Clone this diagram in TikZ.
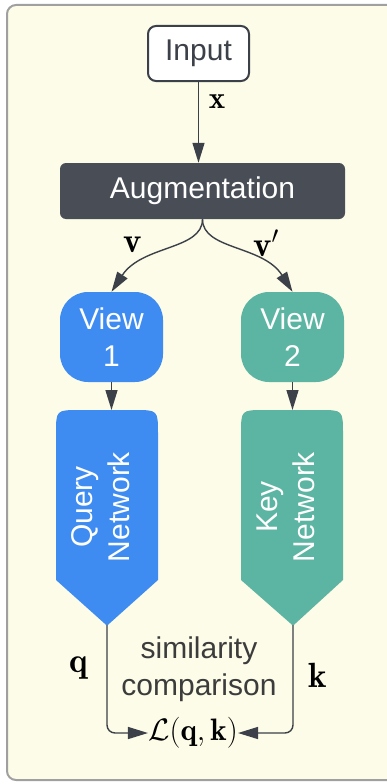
\RequirePackage{fix-cm}
\documentclass[tikz,border=0pt]{standalone}
\usepackage{fontspec}
\newfontfamily\arialf{Liberation Sans}
\usetikzlibrary{arrows.meta}
\definecolor{cream}{RGB}{253,252,232}
\definecolor{framec}{RGB}{160,160,160}
\definecolor{darkc}{RGB}{60,64,72}
\definecolor{augc}{RGB}{72,77,86}
\definecolor{bluec}{RGB}{62,140,242}
\definecolor{tealc}{RGB}{92,181,162}
\definecolor{txtc}{RGB}{60,60,60}
\tikzset{
  sansbig/.style={font=\arialf\fontsize{30}{37}\selectfont},
  inbox/.style={draw=darkc, fill=white, line width=2pt, rounded corners=8pt,
    minimum width=101pt, minimum height=55pt, inner sep=0pt, sansbig, text=darkc},
  augbox/.style={fill=augc, rounded corners=6pt, minimum width=285pt,
    minimum height=56pt, inner sep=0pt, sansbig, text=white},
  viewbox/.style={rounded corners=28pt, minimum width=103pt, minimum height=90pt,
    inner sep=0pt, sansbig, text=white, align=center},
  nettext/.style={sansbig, text=white, align=center, rotate=90, inner sep=0pt},
  conn/.style={draw=darkc, line width=1.4pt,
    -{Triangle[length=20pt,width=12pt]}},
  lab/.style={font=\fontsize{31}{37}\selectfont, inner sep=0pt},
  biglab/.style={font=\fontsize{35}{40}\selectfont, inner sep=0pt},
}
\begin{document}
\begin{tikzpicture}[x=1pt,y=-1pt]
\useasboundingbox (0,0) rectangle (386,784);
\draw[framec, fill=cream, line width=2pt, rounded corners=9pt] (7,5) rectangle (400,780);

% nodes
\node[inbox] (in) at (198.5,53.5) {Input};
\node[augbox] (aug) at (202.5,191) {Augmentation};
\node[viewbox, fill=bluec] (v1) at (111.5,337) {View\\1};
\node[viewbox, fill=tealc] (v2) at (292.5,337) {View\\2};

% query network shape
\fill[bluec] (56,580) -- (56,434) .. controls (56,410) .. (80,410) -- (134,410)
  .. controls (158,410) .. (158,434) -- (158,580) -- (110,623)
  .. controls (107,626) .. (104,623) -- cycle;
\node[nettext] (qn) at (101,507) {Query\\Network};
\coordinate (qtop) at (111.5,410);
\coordinate (qtip) at (107,625);

% key network shape
\fill[tealc] (241,580) -- (241,434) .. controls (241,410) .. (265,410) -- (319,410)
  .. controls (343,410) .. (343,434) -- (343,580) -- (296,623)
  .. controls (293,626) .. (290,623) -- cycle;
\node[nettext] (kn) at (286,507) {Key\\Network};
\coordinate (ktop) at (292.5,410);
\coordinate (ktip) at (293,625);

% loss and text
\node[lab] (loss) at (193,733) {$\mathcal{L}(\mathbf{q},\mathbf{k})$};
\node[sansbig, text=txtc, align=center, inner sep=0pt] (sim) at (199,669) {similarity\\comparison};

% connectors
\draw[conn] (in.south) -- (in.south |- aug.north);
\draw[conn] (aug.south) .. controls (202.5,250) and (142,245) .. (v1.north);
\draw[conn] (aug.south) .. controls (202.5,250) and (263,245) .. (v2.north);
\draw[conn] (v1.south) -- (qtop);
\draw[conn] (v2.south) -- (ktop);
\draw[conn, rounded corners=8pt] (qtip) |- (loss.west);
\draw[conn, rounded corners=8pt] (ktip) |- (loss.east);

% labels
\node[lab] (lx) at (217,102) {$\mathbf{x}$};
\node[biglab] (lv) at (133,245) {$\mathbf{v}$};
\node[biglab] (lvp) at (266,243) {$\mathbf{v}'$};
\node[biglab] (lq) at (79,668) {$\mathbf{q}$};
\node[biglab] (lk) at (318,675) {$\mathbf{k}$};
\end{tikzpicture}
\end{document}
